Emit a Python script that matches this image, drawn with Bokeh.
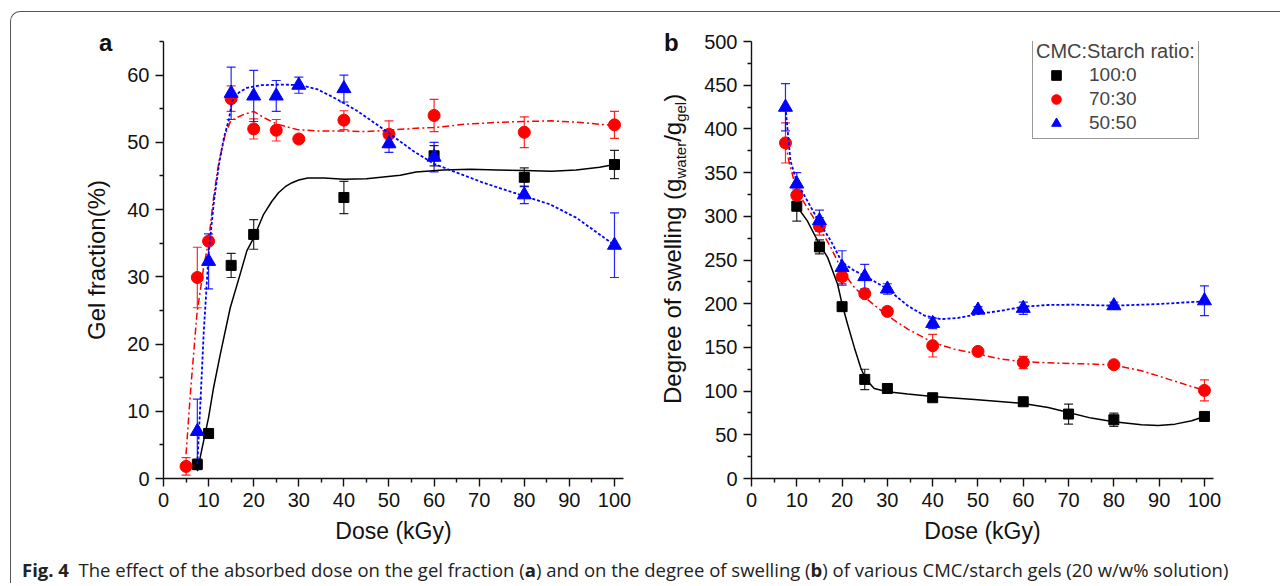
from bokeh.plotting import figure
from bokeh.models import (ColumnDataSource, Whisker, TeeHead, FixedTicker, Range1d,
                          Legend, LegendItem, Div)
from bokeh.layouts import column, row
from bokeh.embed import file_html
from bokeh.resources import INLINE

# ---------------- data: panel a (gel fraction, %) ----------------
dose_a_100 = [7.5, 10, 15, 20, 40, 60, 80, 100]
gel_100 = [2.1, 6.7, 31.7, 36.3, 41.8, 48.0, 44.8, 46.7]
gel_100_err = [0.8, 0.0, 1.8, 2.2, 2.4, 1.5, 1.4, 2.1]

dose_a_70 = [5, 7.5, 10, 15, 20, 25, 30, 40, 50, 60, 80, 100]
gel_70 = [1.8, 29.9, 35.3, 56.5, 52.0, 51.8, 50.5, 53.3, 51.2, 54.0, 51.5, 52.6]
gel_70_err = [1.3, 4.5, 0.5, 1.9, 1.5, 1.6, 0.0, 1.4, 2.0, 2.4, 2.3, 2.0]

dose_a_50 = [7.5, 10, 15, 20, 25, 30, 40, 50, 60, 80, 100]
gel_50 = [7.0, 32.3, 57.3, 56.9, 56.9, 58.5, 58.0, 49.8, 47.8, 42.2, 34.7]
gel_50_err = [4.8, 4.1, 3.9, 3.8, 2.3, 1.2, 2.0, 1.3, 2.2, 1.3, 4.8]

# fitted curves
fit_a_100_x = [7.5, 8.9, 10.0, 11.1, 12.6, 14.8, 17.0, 18.5, 20.0, 22.2, 24.0, 25.5, 27.0, 28.5, 30.0, 32.0, 35.6, 40, 45, 52.5, 56, 62, 68, 74, 80, 86, 91.5, 96.7, 100]
fit_a_100_y = [1.1, 5.6, 9.1, 13.5, 18.5, 25.4, 30.4, 33.9, 35.8, 39.3, 41.2, 42.5, 43.4, 44.0, 44.4, 44.7, 44.7, 44.5, 44.6, 45.1, 45.6, 45.9, 46.0, 45.9, 45.8, 45.7, 45.9, 46.3, 46.7]

fit_a_70_x = [5, 6, 7.4, 8.9, 10, 11.2, 12.3, 13.7, 14.9, 16.3, 18, 20, 22.2, 25.2, 29.6, 34, 40, 45, 50, 56, 60, 67, 75, 80, 86, 91.5, 96.7, 100]
fit_a_70_y = [3.6, 13, 24.4, 31.4, 35.3, 42.3, 47.2, 51.2, 53.2, 53.7, 54.2, 54.6, 53.7, 52.7, 51.9, 51.7, 51.7, 51.6, 51.8, 52.1, 52.2, 52.7, 53.0, 53.1, 53.2, 53.0, 52.7, 52.5]

fit_a_50_x = [7.5, 8.2, 8.9, 10, 11.2, 12.3, 13.4, 14.5, 15.2, 16.7, 18.5, 21.5, 26.7, 30.4, 34.1, 38.5, 42.9, 48.9, 55.4, 60, 65, 70.9, 76.8, 80, 85.6, 91.5, 96.7, 100]
fit_a_50_y = [2.1, 11.5, 21.5, 33.4, 41.3, 46.7, 50.7, 53.4, 56.1, 57.4, 58.1, 58.5, 58.6, 58.5, 57.9, 56.4, 54.7, 51.9, 48.7, 46.8, 45.5, 44.0, 42.7, 42.0, 40.8, 38.8, 36.3, 34.7]

# ---------------- data: panel b (degree of swelling) ----------------
dose_b_100 = [10, 15, 20, 25, 30, 40, 60, 70, 80, 100]
sw_100 = [311.5, 265, 196.6, 113.4, 103, 92.4, 87.8, 73.7, 67.2, 71.0]
sw_100_err = [17, 8, 0, 11.6, 5, 2, 2, 11.5, 7.5, 2]

dose_b_70 = [7.5, 10, 15, 20, 25, 30, 40, 50, 60, 80, 100]
sw_70 = [384, 324, 288.5, 231, 211.5, 191.2, 152, 145.4, 132.8, 130.2, 100.8]
sw_70_err = [23, 7, 10, 10, 4, 3, 13, 3, 7, 3, 12]

dose_b_50 = [7.5, 10, 15, 20, 25, 30, 40, 50, 60, 80, 100]
sw_50 = [424.8, 337, 295, 241.6, 231, 216.8, 177.5, 192.7, 194.7, 197.7, 203.4]
sw_50_err = [27, 13, 12, 19, 14, 6, 6, 4, 7, 4, 17]

fit_b_100_x = [10, 12.3, 15, 16.8, 19, 20, 21.2, 22.7, 24.1, 25.2, 27.1, 30, 34.5, 40, 49.2, 60, 65.5, 70, 75, 80, 86.1, 89.8, 93.5, 97.2, 100]
fit_b_100_y = [311.5, 295, 268, 253, 222.5, 199.6, 176.7, 150, 127, 113.7, 103, 99.2, 96.6, 93.9, 90.5, 85.9, 81.3, 75.6, 69.1, 64.9, 61.5, 60.7, 62.2, 66, 71]

fit_b_70_x = [7.5, 8.3, 10, 12.3, 15, 17.5, 20, 22.7, 25, 30, 34.5, 40, 44.8, 50, 55.1, 60, 67.7, 75, 80, 86.1, 92, 97.2, 100]
fit_b_70_y = [384, 361.8, 329.4, 310, 287.4, 264.5, 237.8, 218.7, 207.3, 186.3, 171, 155.7, 148, 142.4, 136.6, 133.6, 132, 131, 129.8, 123.3, 113.7, 105.3, 100.8]

fit_b_50_x = [7.5, 8.6, 10, 12.3, 15, 17.5, 20, 22.7, 25, 30, 34.5, 38.2, 41.8, 45.5, 50, 55.1, 60, 65.5, 71.4, 80, 89.8, 100]
fit_b_50_y = [424.8, 363.7, 339, 318, 293, 272, 247.3, 237.8, 232, 216.8, 197.7, 186.3, 182.4, 183.6, 188.2, 192, 196.6, 198.5, 198.9, 197.7, 199.6, 202.7]

series_labels = ["100:0", "70:30", "50:50"]
legend_title = "CMC:Starch ratio:"

FONT = "Liberation Sans"
BLACK, RED, BLUE = "#000000", "#ff0000", "#0000ff"
FIG_H = 541
TOP = 29
FRAME_H = 437


def style_axes(p, xticks, xminor, yticks, yminor):
    p.outline_line_color = None
    p.grid.visible = False
    p.xaxis.ticker = FixedTicker(ticks=xticks, minor_ticks=xminor)
    p.yaxis.ticker = FixedTicker(ticks=yticks, minor_ticks=yminor)
    for ax in (p.xaxis[0], p.yaxis[0]):
        ax.axis_line_width = 1.4
        ax.axis_line_color = "#111111"
        ax.major_tick_line_width = 1.4
        ax.minor_tick_line_width = 1.4
        ax.major_tick_line_color = "#111111"
        ax.minor_tick_line_color = "#111111"
        ax.major_tick_in = 0
        ax.major_tick_out = 8
        ax.minor_tick_in = 0
        ax.minor_tick_out = 4
        ax.major_label_text_font = FONT
        ax.major_label_text_font_size = "20px"
        ax.major_label_text_color = "#111111"
        ax.axis_label_text_font = FONT
        ax.axis_label_text_font_size = "23px"
        ax.axis_label_text_font_style = "normal"
        ax.axis_label_text_color = "#111111"
    p.xaxis.major_label_standoff = 6
    p.yaxis.major_label_standoff = 6


def add_errors(p, xs, ys, errs, color):
    xx = [x for x, e in zip(xs, errs) if e > 0]
    up = [y + e for y, e in zip(ys, errs) if e > 0]
    lo = [y - e for y, e in zip(ys, errs) if e > 0]
    src = ColumnDataSource(dict(x=xx, upper=up, lower=lo))
    w = Whisker(source=src, base="x", upper="upper", lower="lower",
                line_color=color, line_width=1.2, line_alpha=0.85,
                upper_head=TeeHead(size=9, line_color=color, line_width=1.2, line_alpha=0.85),
                lower_head=TeeHead(size=9, line_color=color, line_width=1.2, line_alpha=0.85))
    p.add_layout(w)


def add_series(p, xs, ys, errs, fx, fy, color, marker, size, dash, lw):
    p.line(fx, fy, line_color=color, line_width=lw, line_dash=dash)
    add_errors(p, xs, ys, errs, color)
    return p.scatter(xs, ys, marker=marker, size=size, fill_color=color, line_color=color)


# ---------------- panel a ----------------
p1 = figure(width=526, height=FIG_H, x_range=Range1d(0, 102), y_range=Range1d(0, 65),
            output_backend="svg", toolbar_location=None,
            min_border_left=49, min_border_right=17, min_border_top=TOP,
            min_border_bottom=FIG_H - TOP - FRAME_H)
style_axes(p1, list(range(0, 101, 10)), list(range(5, 101, 10)),
           list(range(0, 61, 10)), list(range(5, 66, 10)))
p1.xaxis.axis_label = "Dose (kGy)"
p1.xaxis.axis_label_standoff = 8

add_series(p1, dose_a_100, gel_100, gel_100_err, fit_a_100_x, fit_a_100_y, BLACK, "square", 10, "solid", 1.5)
add_series(p1, dose_a_70, gel_70, gel_70_err, fit_a_70_x, fit_a_70_y, RED, "circle", 12, "7 3 2 3", 1.5)
add_series(p1, dose_a_50, gel_50, gel_50_err, fit_a_50_x, fit_a_50_y, BLUE, "triangle", 14, "3 2", 1.8)

# ---------------- panel b ----------------
p2 = figure(width=590, height=FIG_H, x_range=Range1d(0, 102), y_range=Range1d(0, 500),
            output_backend="svg", toolbar_location=None,
            min_border_left=61, min_border_right=67, min_border_top=TOP,
            min_border_bottom=FIG_H - TOP - FRAME_H)
style_axes(p2, list(range(0, 101, 10)), list(range(5, 101, 10)),
           list(range(0, 501, 50)), list(range(25, 501, 50)))
p2.xaxis.axis_label = "Dose (kGy)"
p2.xaxis.axis_label_standoff = 8

r100 = add_series(p2, dose_b_100, sw_100, sw_100_err, fit_b_100_x, fit_b_100_y, BLACK, "square", 10, "solid", 1.5)
r70 = add_series(p2, dose_b_70, sw_70, sw_70_err, fit_b_70_x, fit_b_70_y, RED, "circle", 12, "7 3 2 3", 1.5)
r50 = add_series(p2, dose_b_50, sw_50, sw_50_err, fit_b_50_x, fit_b_50_y, BLUE, "triangle", 14, "3 2", 1.8)

legend = Legend(items=[LegendItem(label=series_labels[0], renderers=[r100]),
                       LegendItem(label=series_labels[1], renderers=[r70]),
                       LegendItem(label=series_labels[2], renderers=[r50])],
                title=legend_title, location=(281, 339), margin=0, padding=3,
                spacing=0, glyph_width=40, glyph_height=24, label_height=24,
                label_standoff=13, title_standoff=0,
                label_text_font=FONT, label_text_font_size="19px",
                title_text_font=FONT, title_text_font_size="20px", title_text_font_style="normal",
                border_line_color="#333333", border_line_width=1.2,
                background_fill_alpha=1.0)
p2.add_layout(legend)

# ---------------- side cells holding panel letters and y titles ----------------
ROT = ("position:absolute; width:{w}px; height:24px; line-height:24px; left:{l}px; top:{t}px; "
       "transform-origin:0 0; transform:rotate(-90deg); white-space:nowrap; text-align:{a}; "
       "font-family:'Liberation Sans'; font-size:24px; color:#111111;")
LETTER = ("position:absolute; left:{l}px; top:{t}px; line-height:24px; font-family:'Liberation Sans'; "
          "font-size:24px; font-weight:bold; color:#111111;")
SUB = "font-size:15px; vertical-align:-5px; line-height:0;"

side_a = Div(text=(f'<div style="position:relative; width:103px; height:{FIG_H}px;">'
                   f'<div style="{LETTER.format(l=88, t=19)}">a</div>'
                   f'<div style="{ROT.format(w=400, l=74, t=448, a="center")}">Gel fraction(%)</div>'
                   '</div>'),
             width=103, height=FIG_H, margin=0)

side_b = Div(text=(f'<div style="position:relative; width:50px; height:{FIG_H}px;">'
                   f'<div style="{LETTER.format(l=24, t=19)}">b</div>'
                   f'<div style="{ROT.format(w=340, l=21, t=392, a="left")}">'
                   f'Degree of swelling (g<span style="{SUB}">water</span>/g<span style="{SUB}">gel</span>)</div>'
                   '</div>'),
             width=50, height=FIG_H, margin=0)

caption = Div(text='<b>Fig. 4</b>&nbsp; The effect of the absorbed dose on the gel fraction (<b>a</b>) '
                   'and on the degree of swelling (<b>b</b>) of various CMC/starch gels (20 w/w% solution)',
              width=1269, height=30, margin=0,
              styles={"font-family": "Open Sans", "font-size": "18.5px", "color": "#222222",
                      "padding-left": "11px", "padding-top": "3px", "line-height": "28px",
                      "white-space": "nowrap"})

layout = column(row(side_a, p1, side_b, p2), caption,
                styles={"border-left": "1px solid #555555", "border-top": "1px solid #555555",
                        "border-top-left-radius": "10px", "margin-left": "10px", "margin-top": "11px"})

open("out.html", "w").write(file_html(layout, INLINE))
